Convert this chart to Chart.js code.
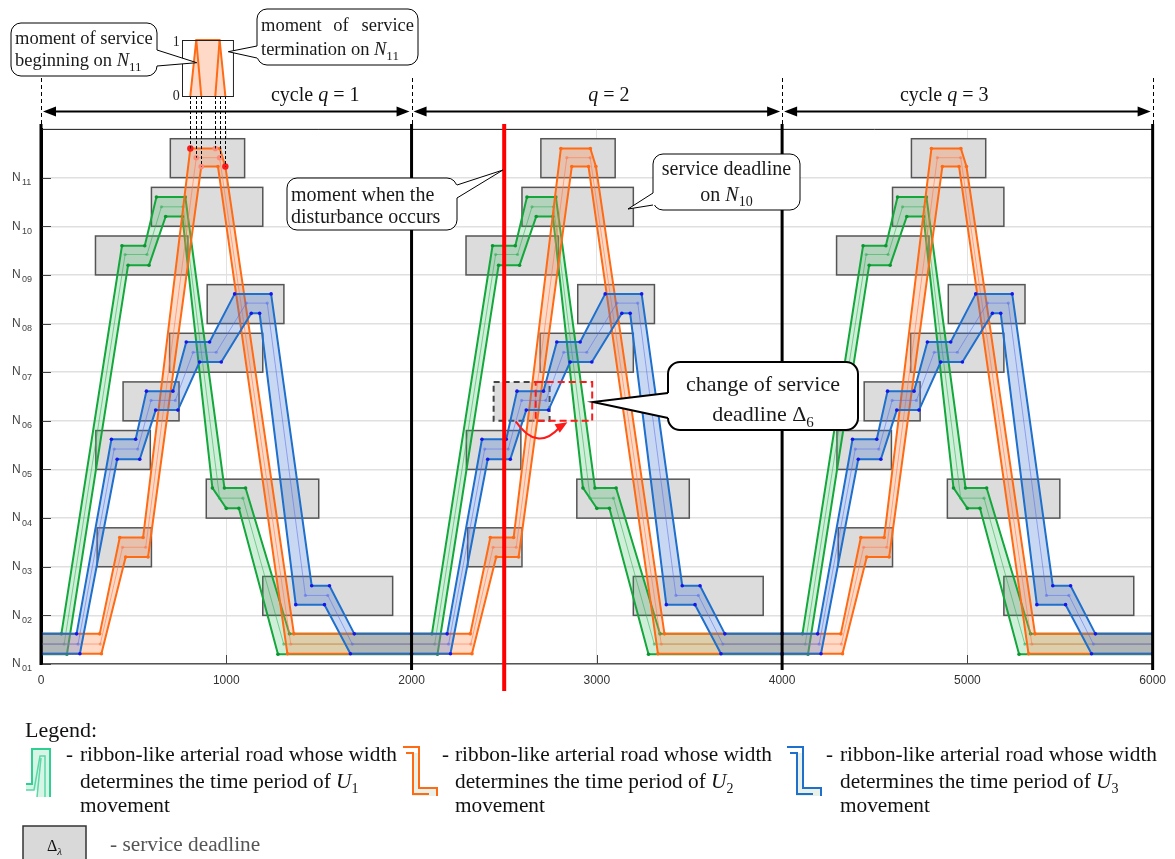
<!DOCTYPE html>
<html>
<head>
<meta charset="utf-8">
<script src="https://cdn.jsdelivr.net/npm/chart.js@4.4.1/dist/chart.umd.min.js"></script>
<style>
  html, body { margin: 0; padding: 0; background: #fff; }
  canvas { display: block; }
</style>
</head>
<body>
<canvas id="chart1" width="1175" height="859" style="width:1175px;height:859px"></canvas>
<script>
const ctx = document.getElementById('chart1');

// axes
const xTicks = [0, 1000, 2000, 3000, 4000, 5000, 6000];
const yLevels = [1, 2, 3, 4, 5, 6, 7, 8, 9, 10, 11];
const yTickLabels = ['01', '02', '03', '04', '05', '06', '07', '08', '09', '10', '11'];

// three identical cycles of 2000
const cycleStarts = [0, 2000, 4000];
const cycleEnds = [2000, 4000, 6000];
const cycleNames = ['cycle ', '', 'cycle '];
const cycleNumbers = ['1', '2', '3'];
const cycleLabelX = [1480, 3065, 4875];

// U1 ribbon (green), one cycle
const u1TopX = [0, 110, 437, 560, 623, 779, 990, 1104, 1341, 2000];
const u1TopY = [1.62, 1.62, 9.6, 9.6, 10.6, 10.6, 4.62, 4.62, 1.62, 1.62];
const u1MidX = [0, 125, 454, 572, 650, 767, 964, 1090, 1310, 2000];
const u1MidY = [1.41, 1.41, 9.42, 9.42, 10.4, 10.4, 4.41, 4.41, 1.41, 1.41];
const u1LowX = [0, 140, 470, 583, 673, 763, 925, 1000, 1068, 1279, 2000];
const u1LowY = [1.2, 1.2, 9.2, 9.2, 10.2, 10.2, 4.62, 4.2, 4.2, 1.2, 1.2];

// U2 ribbon (orange)
const u2TopX = [0, 317, 425, 551, 806, 965, 995, 1365, 2000];
const u2TopY = [1.62, 1.62, 3.6, 3.6, 11.6, 11.6, 11.23, 1.62, 1.62];
const u2MidX = [0, 320, 440, 565, 838, 964, 1348, 2000];
const u2MidY = [1.41, 1.41, 3.4, 3.4, 11.41, 11.41, 1.41, 1.41];
const u2LowX = [0, 326, 457, 578, 865, 955, 1330, 2000];
const u2LowY = [1.21, 1.21, 3.2, 3.2, 11.23, 11.23, 1.21, 1.21];

// U3 ribbon (blue)
const u3TopX = [0, 192, 380, 511, 569, 712, 784, 910, 1045, 1242, 1461, 1557, 1691, 2000];
const u3TopY = [1.62, 1.62, 5.62, 5.62, 6.61, 6.61, 7.62, 7.62, 8.61, 8.61, 2.61, 2.61, 1.62, 1.62];
const u3MidX = [0, 200, 395, 522, 594, 725, 821, 946, 1108, 1221, 1427, 1548, 1680, 2000];
const u3MidY = [1.41, 1.41, 5.42, 5.42, 6.42, 6.42, 7.41, 7.41, 8.42, 8.42, 2.41, 2.41, 1.41, 1.41];
const u3LowX = [0, 210, 411, 533, 619, 739, 856, 973, 1135, 1180, 1375, 1530, 1670, 2000];
const u3LowY = [1.21, 1.21, 5.21, 5.21, 6.22, 6.22, 7.21, 7.21, 8.21, 8.21, 2.22, 2.22, 1.21, 1.21];

// service deadlines of one cycle (levels N11 ... N02)
const dlStart = [698, 596, 294, 897, 694, 443, 296, 892, 303, 1197];
const dlEnd = [1099, 1197, 793, 1311, 1197, 745, 590, 1499, 596, 1898];
const dlBottom = [11, 10, 9, 8, 7, 6, 5, 4, 3, 2];
const dlTop = [11.8, 10.8, 9.8, 8.8, 7.8, 6.8, 5.8, 4.8, 3.8, 2.8];

// service on N11 in cycle 1 (begin / end moments)
const n11X = [806, 838, 865, 941, 964, 995];
const n11Y = [11.6, 11.41, 11.23, 11.6, 11.41, 11.23];
const insetMinX = 760, insetMaxX = 1035;

// disturbance in cycle 2
const disturbanceX = 2500;
const movedCycle = 1, movedBox = 5;
const movedStart = 2670, movedEnd = 2975;
const arrowPts = [[2562, 5.99], [2679, 5.35], [2832, 5.95]];

function cyclePoints(xs, ys) {
  const pts = [];
  cycleStarts.forEach(c => xs.forEach((v, i) => pts.push({x: c + v, y: ys[i]})));
  return pts;
}

function ribbon(tx, ty, mx, my, lx, ly, col) {
  return [
    {data: cyclePoints(mx, my), borderColor: col.mid, borderWidth: 1, pointRadius: 1.6,
      pointBackgroundColor: col.mid, pointBorderWidth: 0, fill: false},
    {data: cyclePoints(tx, ty), borderColor: col.line, borderWidth: 2, pointRadius: 1.8,
      pointBackgroundColor: col.dot, pointBorderWidth: 0, fill: false},
    {data: cyclePoints(lx, ly), borderColor: col.line, borderWidth: 2, pointRadius: 1.8,
      pointBackgroundColor: col.dot, pointBorderWidth: 0,
      fill: {target: '-1', above: col.fill, below: col.fill}}
  ];
}

const green = {line: '#14a83c', dot: '#0a9630', mid: 'rgba(40,175,80,0.55)', fill: 'rgba(40,180,80,0.22)'};
const orange = {line: '#ff6a14', dot: '#ff6a14', mid: 'rgba(255,120,80,0.6)', fill: 'rgba(255,135,70,0.3)'};
const blue = {line: '#1f6fcc', dot: '#1515ee', mid: 'rgba(90,110,240,0.55)', fill: 'rgba(60,115,210,0.28)'};

const n11Dots = {
  data: n11X.map((v, i) => ({x: v, y: n11Y[i]})),
  showLine: false,
  pointRadius: [3.2, 2.8, 2.8, 2.8, 2.8, 3.2],
  pointBackgroundColor: ['#ff1a1a', '#ff8a7a', '#ff8a7a', '#ff8a7a', '#ff8a7a', '#ff1a1a'],
  pointBorderWidth: 0,
  fill: false
};

function seg(c, x0, y0, x1, y1) {
  c.beginPath(); c.moveTo(x0, y0); c.lineTo(x1, y1); c.stroke();
}

function serif(size, italic) {
  return (italic ? 'italic ' : '') + size + 'px "Liberation Serif", "Times New Roman", serif';
}

// parts: [text, kind]  kind: '' roman, 'i' italic, 's' subscript, 'si' italic subscript
function richText(c, parts, x, y, size, align) {
  const items = parts.map(p => {
    const k = p[1] || '';
    const sub = k.includes('s');
    const s = sub ? Math.round(size * 0.68) : size;
    c.font = serif(s, k.includes('i'));
    return {t: p[0], sub, s, it: k.includes('i'), w: c.measureText(p[0]).width};
  });
  const total = items.reduce((a, b) => a + b.w, 0);
  let cx = align === 'center' ? x - total / 2 : align === 'right' ? x - total : x;
  c.textAlign = 'left';
  c.textBaseline = 'alphabetic';
  items.forEach(it => {
    c.font = serif(it.s, it.it);
    c.fillText(it.t, cx, it.sub ? y + size * 0.25 : y);
    cx += it.w;
  });
}

function roundRectPath(c, x, y, w, h, r) {
  c.beginPath();
  c.moveTo(x + r, y);
  c.arcTo(x + w, y, x + w, y + h, r);
  c.arcTo(x + w, y + h, x, y + h, r);
  c.arcTo(x, y + h, x, y, r);
  c.arcTo(x, y, x + w, y, r);
  c.closePath();
}

function callout(c, box, tail, lw) {
  const [x, y, w, h, r] = box;
  const [bx, by1, by2, tx, ty] = tail;
  const inward = bx <= x + 1 ? 1 : -1;
  c.save();
  c.lineWidth = lw; c.strokeStyle = '#000'; c.fillStyle = '#fff';
  roundRectPath(c, x, y, w, h, r);
  c.fill(); c.stroke();
  c.beginPath();
  c.moveTo(bx + inward * (lw + 1), by1); c.lineTo(bx, by1); c.lineTo(tx, ty);
  c.lineTo(bx, by2); c.lineTo(bx + inward * (lw + 1), by2);
  c.closePath(); c.fill();
  c.beginPath(); c.moveTo(bx, by1); c.lineTo(tx, ty); c.lineTo(bx, by2); c.stroke();
  c.restore();
}

function arrowHead(c, x, y, dir) {
  c.beginPath();
  c.moveTo(x, y); c.lineTo(x - dir * 13, y - 5); c.lineTo(x - dir * 13, y + 5);
  c.closePath(); c.fill();
}

function poly(c, pts, close) {
  c.beginPath();
  pts.forEach((p, i) => i ? c.lineTo(p[0], p[1]) : c.moveTo(p[0], p[1]));
  if (close) c.closePath();
}

const drawings = {
  id: 'drawings',
  beforeDatasetsDraw(chart) {
    const {ctx: c, scales: {x, y}} = chart;
    c.save();
    cycleStarts.forEach((cs, k) => {
      dlStart.forEach((s, i) => {
        const x0 = x.getPixelForValue(cs + s), x1 = x.getPixelForValue(cs + dlEnd[i]);
        const y0 = y.getPixelForValue(dlTop[i]), y1 = y.getPixelForValue(dlBottom[i]);
        c.fillStyle = '#dcdcdc';
        c.fillRect(x0, y0, x1 - x0, y1 - y0);
        const moved = k === movedCycle && i === movedBox;
        c.setLineDash(moved ? [6, 4] : []);
        c.strokeStyle = moved ? '#444' : '#555';
        c.lineWidth = moved ? 2 : 1.5;
        c.strokeRect(x0, y0, x1 - x0, y1 - y0);
      });
    });
    c.restore();
  },
  afterDatasetsDraw(chart) {
    const {ctx: c, scales: {x, y}, chartArea: a} = chart;
    c.save();
    // frame top
    c.strokeStyle = '#333'; c.lineWidth = 1;
    seg(c, a.left, a.top + 0.5, a.right, a.top + 0.5);
    // inward ticks
    c.strokeStyle = '#444';
    yLevels.forEach(v => {
      const py = Math.round(y.getPixelForValue(v)) + 0.5;
      seg(c, a.left, py, a.left + 10, py);
    });
    xTicks.forEach(v => {
      const px = Math.round(x.getPixelForValue(v)) + 0.5;
      seg(c, px, a.bottom, px, a.bottom - 9);
    });
    // level labels N01 ... N11
    c.fillStyle = '#444';
    c.textBaseline = 'middle'; c.textAlign = 'left';
    yLevels.forEach((v, i) => {
      const py = y.getPixelForValue(v);
      c.font = '12px "Liberation Sans", Arial, sans-serif';
      c.fillText('N', 12, py);
      c.font = '9px "Liberation Sans", Arial, sans-serif';
      c.fillText(yTickLabels[i], 22, py + 5);
    });
    // changed deadline on N06 in cycle 2
    const rx0 = x.getPixelForValue(movedStart), rx1 = x.getPixelForValue(movedEnd);
    const ry0 = y.getPixelForValue(dlTop[movedBox]), ry1 = y.getPixelForValue(dlBottom[movedBox]);
    c.strokeStyle = '#ff1a1a'; c.lineWidth = 2; c.setLineDash([7, 4]);
    c.strokeRect(rx0, ry0, rx1 - rx0, ry1 - ry0);
    c.setLineDash([]);
    // curved red arrow
    const ap = arrowPts.map(p => [x.getPixelForValue(p[0]), y.getPixelForValue(p[1])]);
    c.lineWidth = 2;
    c.beginPath(); c.moveTo(ap[0][0], ap[0][1]);
    c.quadraticCurveTo(ap[1][0], ap[1][1], ap[2][0] - 6, ap[2][1] + 4); c.stroke();
    c.fillStyle = '#ff1a1a';
    c.save(); c.translate(ap[2][0], ap[2][1]); c.rotate(-0.55);
    c.beginPath(); c.moveTo(2, 0); c.lineTo(-10, -5); c.lineTo(-10, 5); c.closePath(); c.fill();
    c.restore();
    // cycle borders
    c.strokeStyle = '#000'; c.lineWidth = 3;
    [0].concat(cycleEnds).forEach(v => {
      const px = x.getPixelForValue(v);
      seg(c, px, a.top - 5, px, v === 0 ? a.bottom + 1 : a.bottom + 6);
    });
    // moment of the disturbance
    const dx = x.getPixelForValue(disturbanceX);
    c.strokeStyle = '#ff0000'; c.lineWidth = 4;
    seg(c, dx, a.top - 5, dx, a.bottom + 27);
    // projections of the service moments on N11
    c.strokeStyle = '#000'; c.lineWidth = 1; c.setLineDash([3, 2]);
    n11X.forEach((v, i) => {
      const px = Math.round(x.getPixelForValue(v)) + 0.5;
      seg(c, px, 96, px, y.getPixelForValue(n11Y[i]));
    });
    c.restore();
  },
  afterDraw(chart) {
    const {ctx: c, scales: {x}, chartArea: a} = chart;
    c.save();
    // cycle markers and arrows
    c.strokeStyle = '#000'; c.lineWidth = 1; c.setLineDash([4, 3]);
    [0].concat(cycleEnds).forEach(v => {
      const px = Math.round(x.getPixelForValue(v)) + 0.5;
      seg(c, px, 78, px, a.top - 5);
    });
    c.setLineDash([]);
    c.lineWidth = 2; c.fillStyle = '#000';
    cycleStarts.forEach((s, i) => {
      const x0 = x.getPixelForValue(s) + 2, x1 = x.getPixelForValue(cycleEnds[i]) - 2;
      seg(c, x0 + 8, 111.5, x1 - 8, 111.5);
      arrowHead(c, x0, 111.5, -1);
      arrowHead(c, x1, 111.5, 1);
      c.fillStyle = '#111';
      richText(c, [[cycleNames[i]], ['q', 'i'], [' = ' + cycleNumbers[i]]],
        x.getPixelForValue(cycleLabelX[i]), 101, 20, 'center');
      c.fillStyle = '#000';
    });
    // inset: service interval on N11
    const ix0 = x.getPixelForValue(insetMinX), ix1 = x.getPixelForValue(insetMaxX);
    const iy = v => 96 - v * 56;
    const ip = n11X.map(v => x.getPixelForValue(v));
    c.fillStyle = '#fff'; c.fillRect(ix0, 40, ix1 - ix0, 56);
    c.fillStyle = 'rgba(255,170,130,0.45)';
    poly(c, [[ip[0], iy(0)], [ip[1], iy(1)], [ip[4], iy(1)], [ip[5], iy(0)]], true); c.fill();
    c.strokeStyle = '#ff6a14'; c.lineWidth = 2;
    poly(c, [[ip[0], iy(0)], [ip[1], iy(1)], [ip[4], iy(1)], [ip[5], iy(0)]]); c.stroke();
    seg(c, ip[1], iy(1), ip[2], iy(0));
    seg(c, ip[3], iy(0), ip[4], iy(1));
    c.strokeStyle = '#222'; c.lineWidth = 1;
    c.strokeRect(Math.round(ix0) + 0.5, 40.5, ix1 - ix0, 56);
    c.fillStyle = '#222';
    richText(c, [['1']], ix0 - 2, 46, 14, 'right');
    richText(c, [['0']], ix0 - 2, 100, 14, 'right');
    // callouts
    c.fillStyle = '#1a1a1a';
    callout(c, [11, 23, 146, 53, 10], [157, 50, 66, 196.7, 62.7], 1);
    richText(c, [['moment of service']], 15, 44, 18.5, 'left');
    richText(c, [['beginning on '], ['N', 'i'], ['11', 's']], 15, 66, 18.5, 'left');
    callout(c, [257, 9, 161, 56, 10], [257, 46, 58, 228.3, 51.7], 1);
    richText(c, [['moment']], 261, 31, 18.5, 'left');
    richText(c, [['of']], 341, 31, 18.5, 'center');
    richText(c, [['service']], 414, 31, 18.5, 'right');
    richText(c, [['termination on '], ['N', 'i'], ['11', 's']], 261, 55, 18.5, 'left');
    callout(c, [287, 178, 170, 52, 10], [457, 185, 198, 503, 170], 1);
    richText(c, [['moment when the']], 291, 201, 20, 'left');
    richText(c, [['disturbance occurs']], 291, 223, 20, 'left');
    callout(c, [653, 154, 147, 56, 10], [653, 193, 205, 628, 209], 1);
    richText(c, [['service deadline']], 726.5, 175, 20, 'center');
    richText(c, [['on '], ['N', 'i'], ['10', 's']], 726.5, 201, 20, 'center');
    callout(c, [668, 362, 190, 68, 12], [668, 393, 418, 593, 402], 2);
    richText(c, [['change of service']], 763, 391, 22, 'center');
    richText(c, [['deadline '], ['Δ'], ['6', 's']], 763, 421, 22, 'center');
    // legend
    c.fillStyle = '#111';
    richText(c, [['Legend:']], 25, 737, 22, 'left');
    const legendCols = [[25, 66, 80, '1'], [403, 442, 455, '2'], [787, 826, 840, '3']];
    legendCols.forEach(([ixL, dxL, tx, n]) => {
      c.fillStyle = '#111';
      richText(c, [['-']], dxL, 761, 21, 'left');
      richText(c, [['ribbon-like arterial road whose width']], tx, 761, 21.3, 'left');
      richText(c, [['determines the time period of '], ['U', 'i'], [n, 's']], tx, 788, 21.3, 'left');
      richText(c, [['movement']], tx, 812, 21.3, 'left');
    });
    // green icon
    c.fillStyle = '#d6f5e7';
    poly(c, [[32, 749], [50, 749], [50, 797], [37, 797], [37, 790], [26, 790], [26, 784], [32, 784]], true); c.fill();
    c.strokeStyle = '#2ecf90'; c.lineWidth = 2;
    poly(c, [[26, 784], [32, 784], [32, 749], [50, 749], [50, 797]]); c.stroke();
    c.lineWidth = 1.5; c.strokeStyle = '#5ad8a6';
    poly(c, [[26, 790], [34, 790], [40, 756], [45, 756], [45, 797]]); c.stroke();
    seg(c, 37, 797, 41, 758);
    // orange and blue icons
    [[403, '#ff6a14'], [787, '#1f6fcc']].forEach(([ox, col]) => {
      c.fillStyle = '#e9f1e9';
      poly(c, [[ox + 9, 753], [ox + 16, 753], [ox + 16, 788], [ox + 34, 788], [ox + 34, 796], [ox + 9, 796]], true);
      c.fill();
      c.strokeStyle = col; c.lineWidth = 2;
      poly(c, [[ox, 747], [ox + 16, 747], [ox + 16, 788], [ox + 34, 788], [ox + 34, 796]]); c.stroke();
      poly(c, [[ox + 3, 753], [ox + 10, 753], [ox + 10, 794], [ox + 26, 794]]); c.stroke();
    });
    // deadline symbol
    c.fillStyle = '#d9d9d9'; c.fillRect(23, 826, 63, 40);
    c.strokeStyle = '#333'; c.lineWidth = 1.5; c.strokeRect(23, 826, 63, 40);
    c.fillStyle = '#111';
    richText(c, [['Δ'], ['λ', 'si']], 54.5, 851, 16, 'center');
    c.fillStyle = '#555';
    richText(c, [['- service deadline']], 110, 851, 21.3, 'left');
    c.restore();
  }
};

const myChart1 = new Chart(ctx, {
  type: 'line',
  data: {
    datasets: [n11Dots]
      .concat(ribbon(u3TopX, u3TopY, u3MidX, u3MidY, u3LowX, u3LowY, blue))
      .concat(ribbon(u2TopX, u2TopY, u2MidX, u2MidY, u2LowX, u2LowY, orange))
      .concat(ribbon(u1TopX, u1TopY, u1MidX, u1MidY, u1LowX, u1LowY, green))
  },
  options: {
    responsive: false,
    animation: false,
    devicePixelRatio: 1,
    layout: {padding: {left: 0, top: 129, right: 20, bottom: 0}},
    elements: {line: {tension: 0}},
    plugins: {legend: {display: false}, tooltip: {enabled: false}},
    scales: {
      x: {
        type: 'linear', min: 0, max: 6000,
        afterBuildTicks: s => { s.ticks = xTicks.map(v => ({value: v})); },
        ticks: {
          callback: v => String(v),
          font: {family: '"Liberation Sans", Arial, sans-serif', size: 12}, color: '#333', padding: 9, maxRotation: 0
        },
        grid: {color: '#e2e2e2', lineWidth: 1, drawTicks: false},
        border: {color: '#555', width: 1.5},
        afterFit: s => { s.height = 195; }
      },
      y: {
        type: 'linear', min: 1, max: 12,
        ticks: {display: false, stepSize: 1},
        grid: {color: '#e0e0e0', lineWidth: 1.5, drawTicks: false},
        border: {color: '#000', width: 3},
        afterFit: s => { s.width = 41; }
      }
    }
  },
  plugins: [drawings]
});
</script>
</body>
</html>
